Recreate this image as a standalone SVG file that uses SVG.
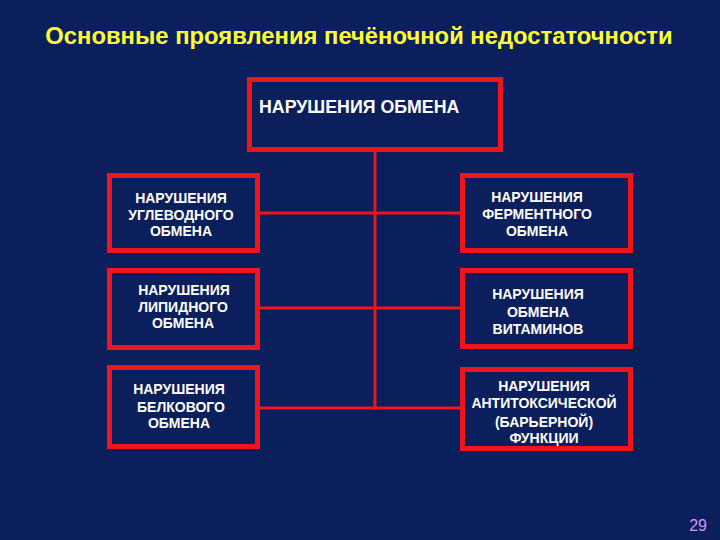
<svg xmlns="http://www.w3.org/2000/svg" width="720" height="540" viewBox="0 0 720 540">
<style>
.box{fill:none;stroke:#F0141C;stroke-width:5}
.con{stroke:#F0141C;stroke-width:3;fill:none}
.t{font-family:"Liberation Sans",Arial,sans-serif;font-weight:bold;font-size:14px;fill:#FFFFFF;text-anchor:middle}
</style>
<rect x="0" y="0" width="720" height="540" fill="#0B1F5C"/>
<text x="359" y="44" font-family="Liberation Sans, Arial, sans-serif" font-weight="bold" font-size="23.8" fill="#FFFF33" text-anchor="middle">Основные проявления печёночной недостаточности</text>
<g id="connectors">
<path class="con" d="M375 151 V409.5"/>
<path class="con" d="M260 213 H460"/>
<path class="con" d="M260 308 H460"/>
<path class="con" d="M260 408 H460"/>
</g>
<g id="top">
<rect class="box" x="249.5" y="79.5" width="251" height="70"/>
<text class="t" x="259" y="113" style="font-size:17.8px;text-anchor:start">НАРУШЕНИЯ ОБМЕНА</text>
</g>
<g id="carb">
<rect class="box" x="109.5" y="175.5" width="148" height="75"/>
<text class="t" x="181" y="203">НАРУШЕНИЯ</text>
<text class="t" x="181" y="220">УГЛЕВОДНОГО</text>
<text class="t" x="181" y="236">ОБМЕНА</text>
</g>
<g id="enzyme">
<rect class="box" x="462.5" y="175.5" width="168" height="75"/>
<text class="t" x="537" y="202">НАРУШЕНИЯ</text>
<text class="t" x="537" y="219">ФЕРМЕНТНОГО</text>
<text class="t" x="537" y="236">ОБМЕНА</text>
</g>
<g id="lipid">
<rect class="box" x="109.5" y="270.5" width="148" height="77"/>
<text class="t" x="184" y="295">НАРУШЕНИЯ</text>
<text class="t" x="183" y="312">ЛИПИДНОГО</text>
<text class="t" x="183" y="328">ОБМЕНА</text>
</g>
<g id="vitamin">
<rect class="box" x="462.5" y="270.5" width="168" height="76"/>
<text class="t" x="538" y="299">НАРУШЕНИЯ</text>
<text class="t" x="538" y="317">ОБМЕНА</text>
<text class="t" x="538" y="334">ВИТАМИНОВ</text>
</g>
<g id="protein">
<rect class="box" x="109.5" y="367.5" width="148" height="79"/>
<text class="t" x="179" y="394">НАРУШЕНИЯ</text>
<text class="t" x="181" y="412">БЕЛКОВОГО</text>
<text class="t" x="179" y="428">ОБМЕНА</text>
</g>
<g id="barrier">
<rect class="box" x="462.5" y="369.5" width="168" height="79"/>
<text class="t" x="544" y="391">НАРУШЕНИЯ</text>
<text class="t" x="544" y="408">АНТИТОКСИЧЕСКОЙ</text>
<text class="t" x="544" y="427">(БАРЬЕРНОЙ)</text>
<text class="t" x="544" y="443">ФУНКЦИИ</text>
</g>
<text x="707" y="531" font-family="Liberation Sans, Arial, sans-serif" font-size="16" fill="#CC99FF" text-anchor="end">29</text>
</svg>
